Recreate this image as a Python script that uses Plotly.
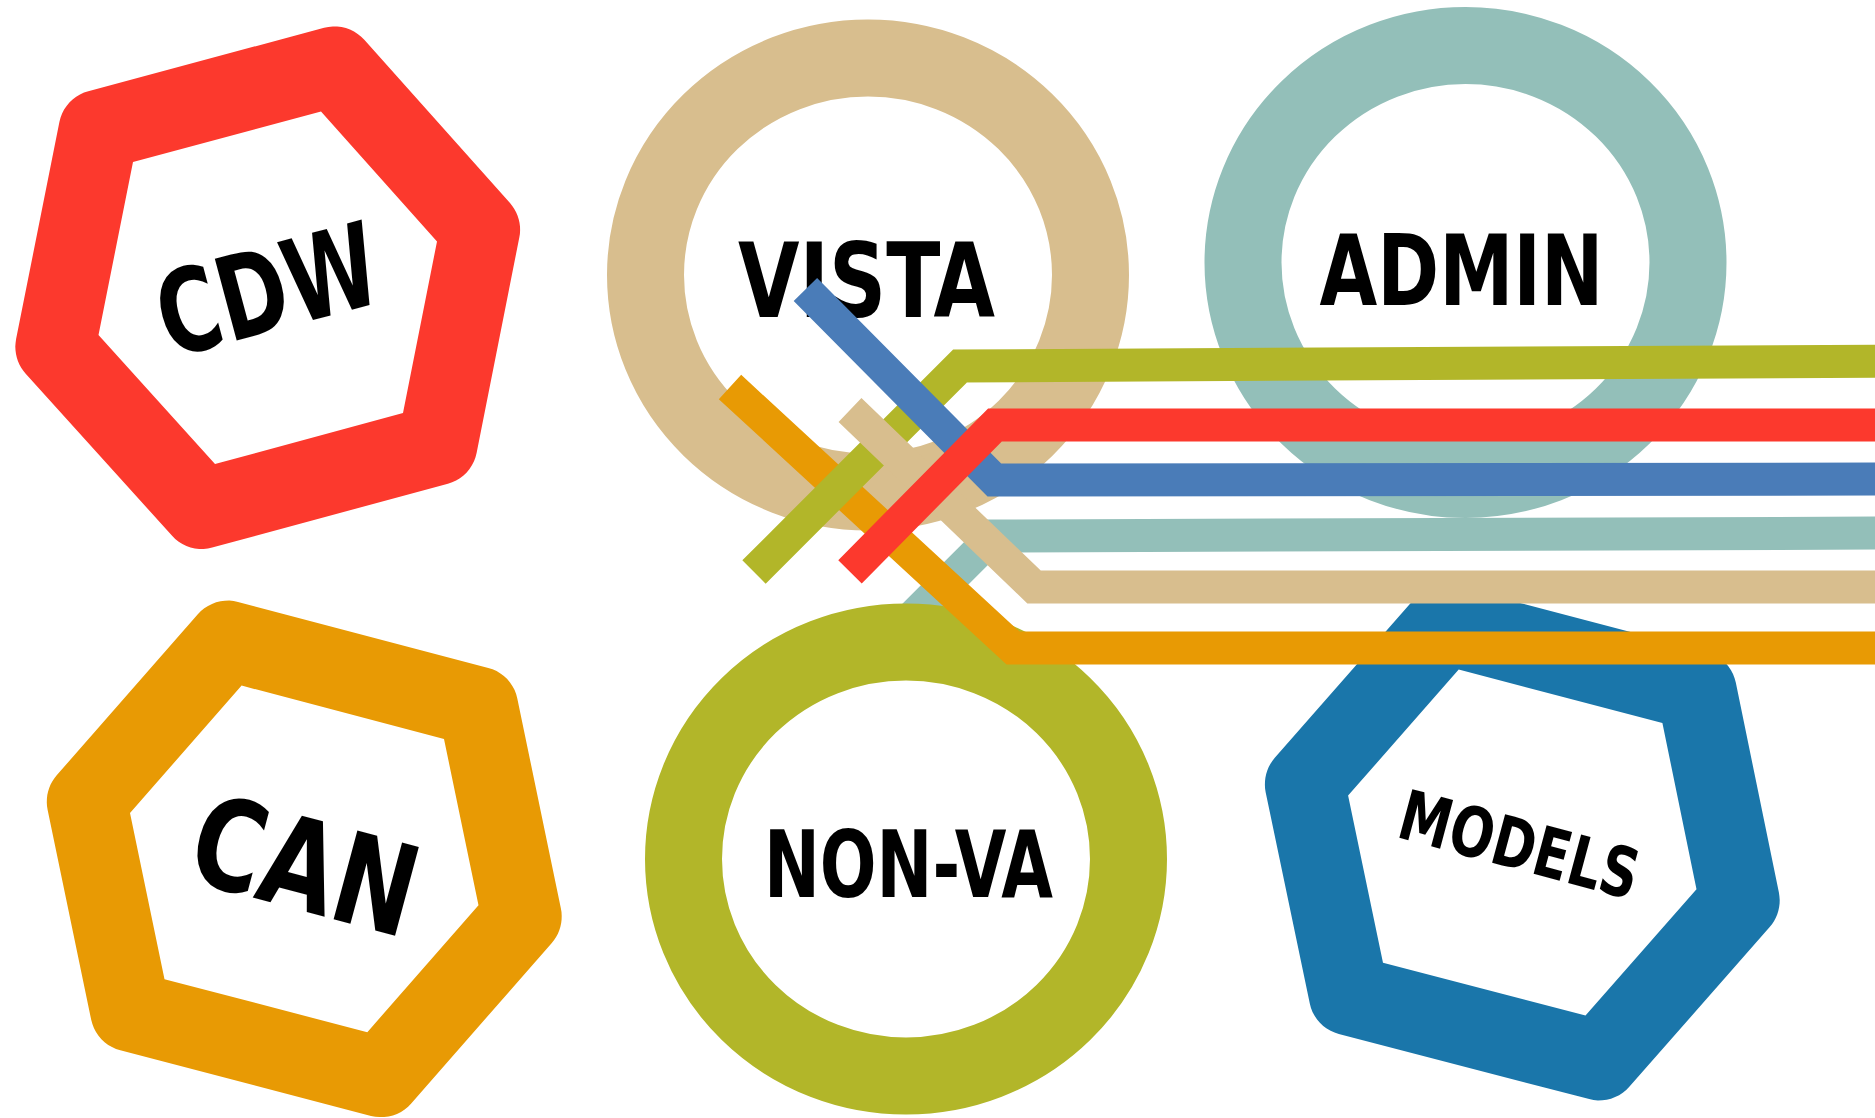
import json
import numpy as np
import plotly.graph_objects as go

W, H = 1875, 1118

# ---- hexagon nodes (inner vertices, px) ----
hex_labels = ["CDW", "CAN", "MODELS"]
hex_colors = ["#FC392D", "#E89A04", "#1A76AA"]
hex_inner = [
    [(133, 162), (321, 111.5), (437, 241.5), (403, 413), (215, 464), (98.5, 335)],
    [(241.6, 685.6), (444, 739), (478.5, 905.2), (367.3, 1032.2), (164.5, 979.2), (130, 813)],
    [(1458.7, 669.6), (1662.4, 723), (1696.5, 889.2), (1585.5, 1015.5), (1383, 962.8), (1348.1, 795.6)],
]
hex_text_angle = [-15, 15, 15]
hex_text_size = [116, 126, 69]
hex_text_width = [224, 228, 245]
hex_text_xy = [(267, 290), (305, 866), (1519, 845)]
hex_band = 80

# ---- ellipse nodes ----
ring_labels = ["VISTA", "ADMIN", "NON-VA"]
ring_colors = ["#D8BE8E", "#93BFB9", "#B2B629"]
ring_cx = [868, 1465.5, 906]
ring_cy = [275, 262.5, 859]
ring_rx = 222.5
ring_ry = 217
ring_band = 77
ring_text_size = [104, 98, 92]
ring_text_width = [257, 284, 289]
ring_text_xy = [(866.5, 291), (1461.5, 280), (908.5, 874)]

# ---- connector lines (centre-line vertices, px) ----
line_names = ["ADMIN", "CAN", "NON-VA", "VISTA", "MODELS", "CDW"]
line_colors = ["#93BFB9", "#E89A04", "#B2B629", "#D8BE8E", "#4A7CB8", "#FC392D"]
line_paths = [
    [(880, 649.5), (993.5, 536), (1900, 533)],
    [(730, 387), (1013, 648), (1900, 648)],
    [(754, 572), (960, 366), (1900, 361)],
    [(850, 410), (1034, 587), (1900, 587)],
    [(805.4, 289.5), (994.4, 480), (1900, 479)],
    [(850, 571.8), (995, 425), (1900, 425)],
]
line_width = 33

FONT = "DejaVu Sans Condensed, DejaVu Sans, sans-serif"


def ring_path(inner, band, nseg=10):
    P = np.array(inner, float)
    c = P.mean(axis=0)
    n = len(P)
    normals = []
    for i in range(n):
        a, b = P[i], P[(i + 1) % n]
        e = b - a
        nv = np.array([e[1], -e[0]]) / np.hypot(*e)
        if np.dot(nv, (a + b) / 2 - c) < 0:
            nv = -nv
        normals.append(nv)
    hw = band / 2
    C = []
    for i in range(n):
        n1, n2 = normals[i - 1], normals[i]
        m = (n1 + n2) / (1 + np.dot(n1, n2))
        C.append(P[i] + hw * m)
    pts = []
    for i in range(n):
        n1, n2 = normals[i - 1], normals[i]
        a1 = np.arctan2(n1[1], n1[0])
        a2 = np.arctan2(n2[1], n2[0])
        d = (a2 - a1 + np.pi) % (2 * np.pi) - np.pi
        for t in np.linspace(0, 1, nseg + 1):
            ang = a1 + d * t
            pts.append(C[i] + hw * np.array([np.cos(ang), np.sin(ang)]))
    path = "M " + " L ".join(f"{x:.1f},{y:.1f}" for x, y in pts) + " Z "
    path += "M " + " L ".join(f"{x:.1f},{y:.1f}" for x, y in P[::-1]) + " Z"
    return path


def poly_path(pts):
    return "M " + " L ".join(f"{x},{y}" for x, y in pts)


def ellipse_shape(i):
    return dict(type="circle", xref="x", yref="y",
                x0=ring_cx[i] - ring_rx, x1=ring_cx[i] + ring_rx,
                y0=ring_cy[i] - ring_ry, y1=ring_cy[i] + ring_ry,
                line=dict(color=ring_colors[i], width=ring_band),
                fillcolor="rgba(0,0,0,0)", layer="above")


def line_shape(j):
    return dict(type="path", xref="x", yref="y", path=poly_path(line_paths[j]),
                line=dict(color=line_colors[j], width=line_width),
                fillcolor="rgba(0,0,0,0)", layer="above")


shapes = []
for k in range(3):
    shapes.append(dict(type="path", xref="x", yref="y",
                       path=ring_path(hex_inner[k], hex_band),
                       fillcolor=hex_colors[k], fillrule="evenodd",
                       line=dict(width=0), layer="above"))
shapes.append(ellipse_shape(0))
shapes.append(ellipse_shape(1))
shapes.append(line_shape(0))      # ADMIN teal (under NON-VA ring)
shapes.append(ellipse_shape(2))   # NON-VA ring
for j in range(1, 6):
    shapes.append(line_shape(j))

fig = go.Figure()
for i in range(3):
    fig.add_trace(go.Scatter(
        x=[ring_text_xy[i][0]], y=[ring_text_xy[i][1]], mode="text",
        text=[f"<b>{ring_labels[i]}</b>"], textposition="middle center",
        textfont=dict(family=FONT, size=ring_text_size[i], color="black"),
        hoverinfo="skip", showlegend=False))

annotations = []
for k in range(3):
    annotations.append(dict(
        x=hex_text_xy[k][0], y=hex_text_xy[k][1], xref="x", yref="y",
        text=f"<b>{hex_labels[k]}</b>", showarrow=False,
        textangle=hex_text_angle[k], xanchor="center", yanchor="middle",
        font=dict(family=FONT, size=hex_text_size[k], color="black")))

fig.update_layout(
    width=W, height=H, autosize=False,
    margin=dict(l=0, r=0, t=0, b=0, pad=0),
    paper_bgcolor="white", plot_bgcolor="white",
    xaxis=dict(range=[0, W], visible=False, fixedrange=True),
    yaxis=dict(range=[H, 0], visible=False, fixedrange=True),
    shapes=shapes, annotations=annotations, showlegend=False,
)

# condensed heavy look: fit each label to its measured width
widths = dict(zip(hex_labels + ring_labels, hex_text_width + ring_text_width))
post = """
document.body.style.margin='0';document.body.style.overflow='hidden';
try {
  var WD = %s;
  document.querySelectorAll('text').forEach(function(t){
    var s = t.textContent;
    if (WD[s]) {
      t.setAttribute('textLength', WD[s]);
      t.setAttribute('lengthAdjust', 'spacingAndGlyphs');
    }
  });
} catch (e) {}
""" % json.dumps(widths)

fig.write_html("out.html", config={"displayModeBar": False}, post_script=post)
